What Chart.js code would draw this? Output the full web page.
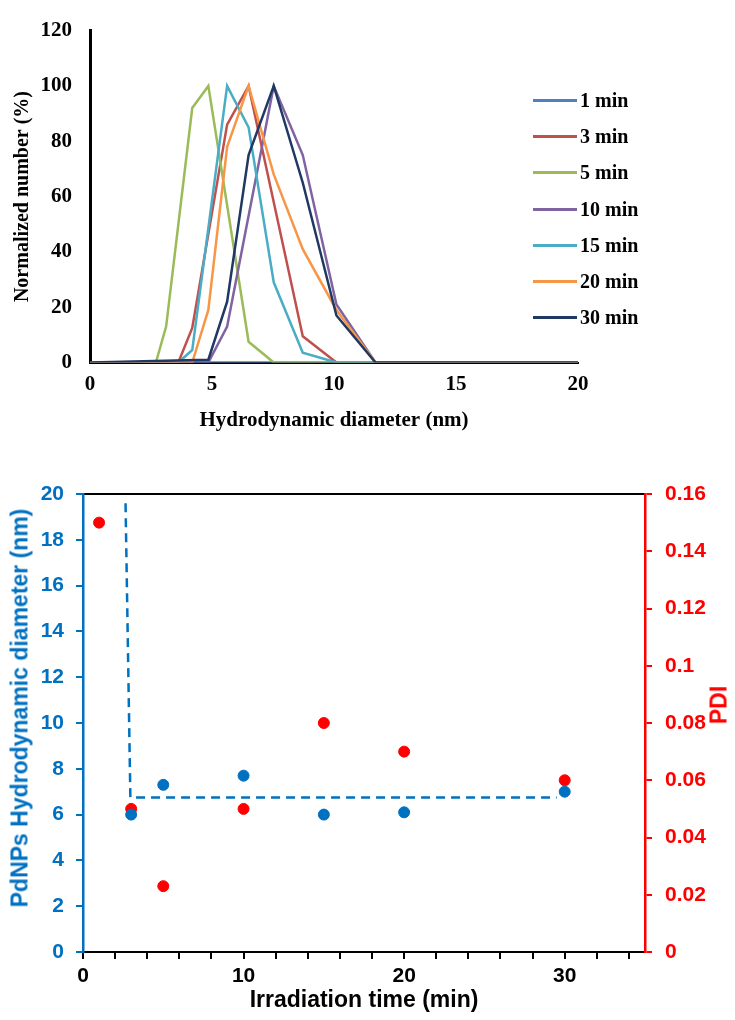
<!DOCTYPE html>
<html>
<head>
<meta charset="utf-8">
<title>PdNPs size distribution</title>
<script src="https://cdn.jsdelivr.net/npm/chart.js@4.4.1/dist/chart.umd.min.js"></script>
<style>
  body { margin: 0; background: #ffffff; }
  #page { position: relative; width: 735px; height: 1020px; overflow: hidden; }
  #sizeBox { position: absolute; left: 0; top: 0; }
  #timeBox { position: absolute; left: 0; top: 460px; }
  .legItem { position: absolute; left: 533px; height: 24px; display: flex; align-items: center;
             font: bold 20px 'Liberation Serif', 'Times New Roman', serif; color: #000; white-space: nowrap; }
  .legItem span { display: inline-block; width: 44px; height: 3px; margin-right: 3px; }
  .vTitle { position: absolute; transform: translate(-50%, -50%) rotate(-90deg);
            font: bold 23px 'Liberation Sans', Arial, sans-serif; white-space: nowrap; }
  #diamTitle { left: 20px; top: 708px; color: #0070c0; }
  #pdiTitle { left: 719px; top: 705px; color: #ff0000; }
</style>
</head>
<body>
<div id="page">
  <div id="sizeBox"><canvas id="sizeChart" width="735" height="440"></canvas></div>
  <div id="legend"></div>
  <div id="timeBox"><canvas id="timeChart" width="735" height="560"></canvas></div>
  <div id="diamTitle" class="vTitle">PdNPs Hydrodynamic diameter (nm)</div>
  <div id="pdiTitle" class="vTitle">PDI</div>
</div>
<script>
/* Grafik atas: distribusi ukuran (DLS) */
const sizeLabels = ['1 min', '3 min', '5 min', '10 min', '15 min', '20 min', '30 min'];
const sizeColors = ['#4f81bd', '#c0504d', '#9bbb59', '#8064a2', '#4bacc6', '#f79646', '#1f3864'];

const min1X = [0, 20];
const min1Y = [0, 0];
const min3X = [0, 3.62, 4.19, 5.62, 6.5, 8.72, 10.1, 20];
const min3Y = [0, 0, 12.5, 86, 100, 9.5, 0, 0];
const min5X = [0, 2.7, 3.12, 4.19, 4.85, 6.5, 7.53, 20];
const min5Y = [0, 0, 13, 92, 100, 7.5, 0, 0];
const min10X = [0, 4.85, 5.62, 7.53, 8.72, 10.1, 11.7, 20];
const min10Y = [0, 0, 13, 100, 75, 21, 0, 0];
const min15X = [0, 3.62, 4.19, 5.62, 6.5, 7.53, 8.72, 10.1, 20];
const min15Y = [0, 0, 4.5, 100, 85, 29, 3.5, 0, 0];
const min20X = [0, 4.19, 4.85, 5.62, 6.5, 7.53, 8.72, 10.1, 11.7, 20];
const min20Y = [0, 0, 19, 78, 100, 68, 41, 19, 0, 0];
const min30X = [0, 4.85, 5.62, 6.5, 7.53, 8.72, 10.1, 11.7, 20];
const min30Y = [0, 1, 22, 75, 100, 65, 17, 0, 0];

const sizeXs = [min1X, min3X, min5X, min10X, min15X, min20X, min30X];
const sizeYs = [min1Y, min3Y, min5Y, min10Y, min15Y, min20Y, min30Y];

const sizeXTicks = [0, 20, 5];     // min, max, step
const sizeYTicks = [0, 120, 20];

/* Grafik bawah: diameter dan PDI terhadap waktu iradiasi */
const pdiTime = [1, 3, 5, 10, 15, 20, 30];
const pdiValue = [0.15, 0.05, 0.023, 0.05, 0.08, 0.07, 0.06];
const diamTime = [3, 5, 10, 15, 20, 30];
const diamValue = [6.0, 7.3, 7.7, 6.0, 6.1, 7.0];
const trendTime = [2.65, 2.95, 29.5];
const trendValue = [19.6, 6.75, 6.75];

const timeTicks = [0, 35, 2];
const diamTicks = [0, 20, 2];
const pdiTicks = [0, 0.16, 0.02];

const serifTick = { family: "'Liberation Serif', 'Times New Roman', serif", size: 21, weight: 'bold' };
const serifTitle = { family: "'Liberation Serif', 'Times New Roman', serif", size: 20, weight: 'bold' };
const serifTitleX = { family: "'Liberation Serif', 'Times New Roman', serif", size: 21, weight: 'bold' };
const sansTick = { family: "'Liberation Sans', Arial, sans-serif", size: 21, weight: 'bold' };
const sansTitle = { family: "'Liberation Sans', Arial, sans-serif", size: 23, weight: 'bold' };
const blue = '#0070c0';
const red = '#ff0000';

/* Legenda HTML untuk grafik atas */
const legendBox = document.getElementById('legend');
sizeLabels.forEach(function (lab, i) {
    const item = document.createElement('div');
    item.className = 'legItem';
    item.style.top = (100.7 + i * 36.1 - 12) + 'px';
    const line = document.createElement('span');
    line.style.background = sizeColors[i];
    item.appendChild(line);
    item.appendChild(document.createTextNode(lab));
    legendBox.appendChild(item);
});

new Chart(document.getElementById('sizeChart'), {
    type: 'line',
    data: {
        datasets: sizeLabels.map(function (lab, i) {
            return {
                label: lab,
                data: sizeXs[i].map((x, j) => ({ x: x, y: sizeYs[i][j] })),
                borderColor: sizeColors[i],
                borderWidth: 2.5,
                pointRadius: 0,
                tension: 0,
                fill: false,
                order: sizeLabels.length - i
            };
        })
    },
    options: {
        responsive: false,
        animation: false,
        plugins: { legend: { display: false }, tooltip: { enabled: false } },
        layout: { padding: { top: 22, right: 157, left: 0, bottom: 0 } },
        scales: {
            x: {
                type: 'linear',
                min: sizeXTicks[0], max: sizeXTicks[1],
                ticks: { stepSize: sizeXTicks[2], color: '#000', font: serifTick, padding: 9, maxRotation: 0 },
                grid: { display: false, drawTicks: false },
                border: { color: '#000', width: 2 },
                title: { display: true, text: 'Hydrodynamic diameter (nm)', color: '#000', font: serifTitleX, padding: { top: 0, bottom: 7 } },
                afterFit: function (s) { s.height = 77.5; }
            },
            y: {
                min: sizeYTicks[0], max: sizeYTicks[1],
                ticks: { stepSize: sizeYTicks[2], color: '#000', font: serifTick, padding: 18 },
                grid: { display: false, drawTicks: false },
                border: { color: '#000', width: 3 },
                title: { display: true, text: 'Normalized number (%)', color: '#000', font: serifTitle, padding: { top: 11, bottom: 0 } },
                afterFit: function (s) { s.width = 90; }
            }
        }
    }
});

new Chart(document.getElementById('timeChart'), {
    type: 'scatter',
    data: {
        datasets: [{
            label: 'Hydrodynamic diameter',
            data: diamTime.map((t, i) => ({ x: t, y: diamValue[i] })),
            yAxisID: 'y',
            backgroundColor: blue,
            borderColor: blue,
            pointRadius: 5.5,
            order: 0
        }, {
            label: 'PDI',
            data: pdiTime.map((t, i) => ({ x: t, y: pdiValue[i] })),
            yAxisID: 'y1',
            backgroundColor: red,
            borderColor: red,
            pointRadius: 5.5,
            order: 1
        }, {
            type: 'line',
            label: 'trend',
            data: trendTime.map((t, i) => ({ x: t, y: trendValue[i] })),
            yAxisID: 'y',
            borderColor: blue,
            borderWidth: 2.5,
            borderDash: [9, 6],
            pointRadius: 0,
            tension: 0,
            fill: false,
            order: 2
        }]
    },
    options: {
        responsive: false,
        animation: false,
        plugins: { legend: { display: false }, tooltip: { enabled: false } },
        layout: { padding: { top: 34, right: 0, left: 0, bottom: 0 } },
        scales: {
            x: {
                type: 'linear',
                position: 'bottom',
                min: timeTicks[0], max: timeTicks[1],
                ticks: {
                    stepSize: timeTicks[2], autoSkip: false, maxRotation: 0, includeBounds: false,
                    callback: v => (v % 10 === 0 ? v : ''),
                    color: '#000', font: sansTick, padding: 5
                },
                grid: { drawOnChartArea: false, tickLength: 7, color: '#000', lineWidth: 2 },
                border: { color: '#000', width: 2 },
                title: { display: true, text: 'Irradiation time (min)', color: '#000', font: sansTitle, padding: { top: 0, bottom: 6 } },
                afterFit: function (s) { s.height = 68; }
            },
            x2: {
                type: 'linear',
                position: 'top',
                min: timeTicks[0], max: timeTicks[1],
                ticks: { display: false },
                grid: { display: false, drawTicks: false },
                border: { color: '#000', width: 2 },
                afterFit: function (s) { s.height = 0; }
            },
            y: {
                position: 'left',
                min: diamTicks[0], max: diamTicks[1],
                ticks: { stepSize: diamTicks[2], color: blue, font: sansTick, padding: 12 },
                grid: { drawOnChartArea: false, tickLength: 7, color: blue, lineWidth: 2 },
                border: { color: blue, width: 2.5 },
                afterFit: function (s) { s.width = 83; }
            },
            y1: {
                position: 'right',
                min: pdiTicks[0], max: pdiTicks[1],
                ticks: { stepSize: pdiTicks[2], color: red, font: sansTick, padding: 13, callback: v => +v.toFixed(2) },
                grid: { drawOnChartArea: false, tickLength: 7, color: red, lineWidth: 2 },
                border: { color: red, width: 2.5 },
                afterFit: function (s) { s.width = 90; }
            }
        }
    }
});
</script>
</body>
</html>
